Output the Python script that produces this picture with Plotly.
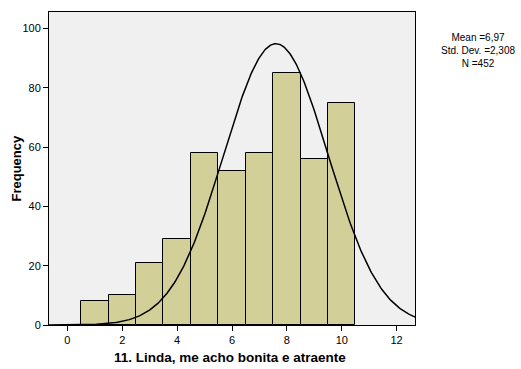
import numpy as np
import plotly.graph_objects as go

# Histogram data (bin centers and counts)
bins = [1, 2, 3, 4, 5, 6, 7, 8, 9, 10]
counts = [8, 10, 21, 29, 58, 52, 58, 85, 56, 75]

# Stats text shown in the chart
stat_mean = "6,97"
stat_sd = "2,308"
stat_n = "452"

# Normal curve as drawn (peak position/width)
curve_mean = 7.6
curve_sd = 1.9
curve_n = 452
bin_width = 1.0

x_ticks = [0, 2, 4, 6, 8, 10, 12]
y_ticks = [0, 20, 40, 60, 80, 100]

xs = np.linspace(-0.7, 12.7, 400)
ys = curve_n * bin_width / (curve_sd * np.sqrt(2 * np.pi)) * np.exp(-0.5 * ((xs - curve_mean) / curve_sd) ** 2)

fig = go.Figure()
fig.add_trace(go.Bar(
    x=bins, y=counts, width=1.0,
    marker=dict(color="#d3cf99", line=dict(color="#000000", width=1)),
    showlegend=False, hoverinfo="skip",
))
fig.add_trace(go.Scatter(
    x=xs, y=ys, mode="lines",
    line=dict(color="#000000", width=1.5),
    showlegend=False, hoverinfo="skip",
))

font = "Liberation Sans, Arial, sans-serif"
fig.update_layout(
    width=521, height=369,
    margin=dict(l=49, r=106, t=12, b=44),
    paper_bgcolor="#ffffff",
    plot_bgcolor="#f0f0f0",
    bargap=0,
    font=dict(family=font, size=11, color="#000000"),
    xaxis=dict(
        range=[-0.67, 12.67], tickvals=x_ticks, ticktext=[str(t) for t in x_ticks],
        showgrid=False, zeroline=False, showline=True, linecolor="#000000", linewidth=1,
        mirror=True, ticks="outside", ticklen=5, tickcolor="#000000",
        tickfont=dict(size=11, family=font, color="#000000"),
    ),
    yaxis=dict(
        range=[0, 105.6], tickvals=y_ticks, ticktext=[str(t) for t in y_ticks],
        showgrid=False, zeroline=False, showline=True, linecolor="#000000", linewidth=1,
        mirror=True, ticks="outside", ticklen=5, tickcolor="#000000",
        tickfont=dict(size=11, family=font, color="#000000"),
    ),
    annotations=[
        dict(text="<b>11. Linda, me acho bonita e atraente</b>", xref="paper", yref="paper",
             x=0.5, y=0, yshift=-32, xshift=-2, xanchor="center", yanchor="middle", showarrow=False,
             font=dict(size=13.5, family=font, color="#000000")),
        dict(text="<b>Frequency</b>", xref="paper", yref="paper", textangle=-90,
             x=0, xshift=-33, y=0.5, xanchor="center", yanchor="middle", showarrow=False,
             font=dict(size=13, family=font, color="#000000")),
        dict(text=f"Mean ={stat_mean}<br>Std. Dev. ={stat_sd}<br>N ={stat_n}",
             xref="paper", yref="paper", x=1, xshift=63, y=1, yshift=-18,
             xanchor="center", yanchor="top", align="center", showarrow=False,
             font=dict(size=10, family=font, color="#000000")),
    ],
)

fig.write_html("out.html")
